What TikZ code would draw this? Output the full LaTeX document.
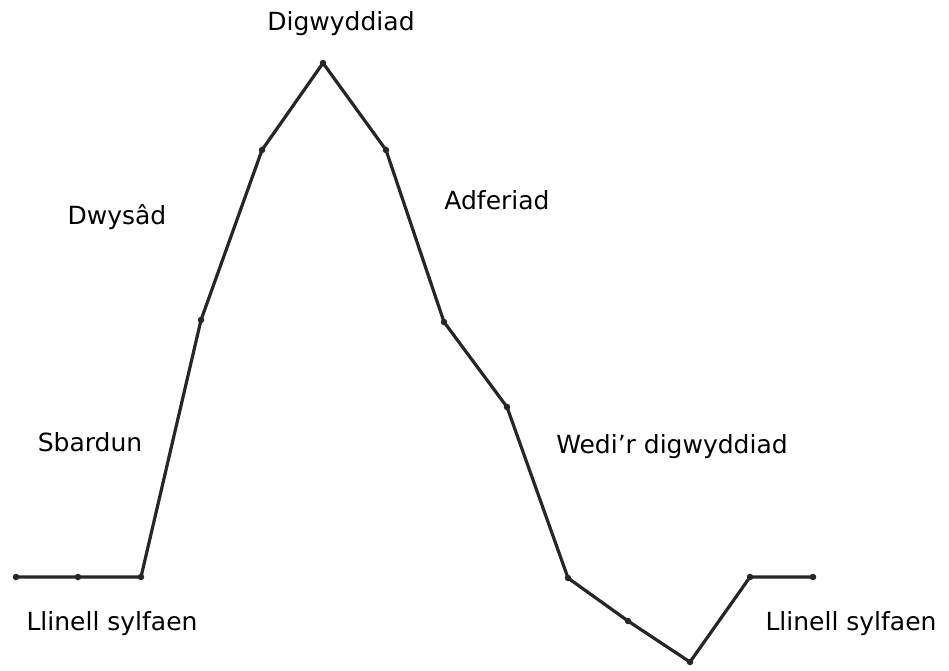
\documentclass[tikz,border=0pt]{standalone}
\usepackage{fontspec}
\setmainfont{DejaVu Sans}
\begin{document}
\begin{tikzpicture}[x=1pt,y=-1pt,
  curve/.style={line width=3.2pt, line join=round, line cap=round, black!85},
  pt/.style={circle, fill=black!85, inner sep=0pt, minimum size=6.5pt},
  lbl/.style={font=\fontsize{25}{30}\selectfont, inner sep=0pt}]
\useasboundingbox (0,0) rectangle (949,670);
\coordinate (p1) at (16,577);
\coordinate (p2) at (78,577);
\coordinate (p3) at (141,577);
\coordinate (p4) at (201,320);
\coordinate (p5) at (262,150);
\coordinate (p6) at (323,63);
\coordinate (p7) at (386,150);
\coordinate (p8) at (444,322);
\coordinate (p9) at (507,407);
\coordinate (p10) at (568,578);
\coordinate (p11) at (628,621);
\coordinate (p12) at (690,662);
\coordinate (p13) at (750,577);
\coordinate (p14) at (813,577);
\draw[curve] (p1) -- (p2) -- (p3) -- (p4) -- (p5) -- (p6) -- (p7) -- (p8) -- (p9) -- (p10) -- (p11) -- (p12) -- (p13) -- (p14);
\foreach \i in {1,2,3,4,5,6,7,8,9,10,11,12,13,14} \node[pt] (d\i) at (p\i) {};
\node[lbl] (t1) at (341,24) {Digwyddiad};
\node[lbl] (t2) at (117,217) {Dwysâd};
\node[lbl] (t3) at (497,200) {Adferiad};
\node[lbl] (t4) at (90,442) {Sbardun};
\node[lbl] (t5) at (672,447) {Wedi’r digwyddiad};
\node[lbl] (t6) at (112,624) {Llinell sylfaen};
\node[lbl] (t7) at (851,624) {Llinell sylfaen};
\end{tikzpicture}
\end{document}
